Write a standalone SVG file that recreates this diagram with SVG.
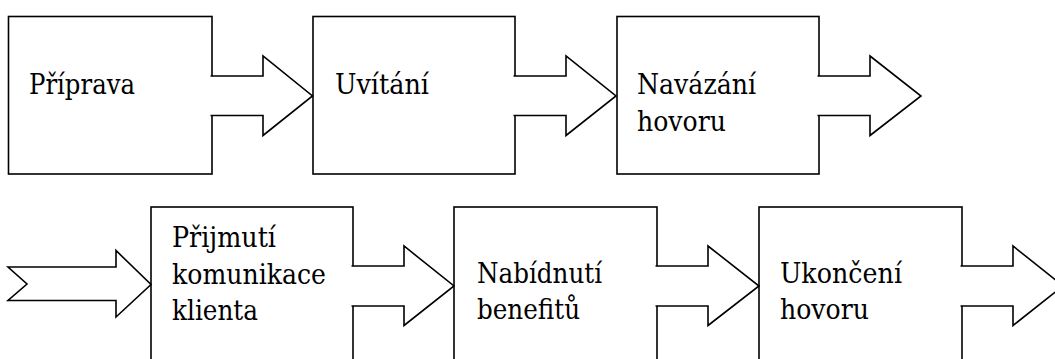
<svg xmlns="http://www.w3.org/2000/svg" width="1055" height="359" viewBox="0 0 1055 359">
<style>
.box{fill:#fff;stroke:#000;stroke-width:1.6}
.arr{fill:#fff;stroke:#000;stroke-width:1.6;stroke-linejoin:miter}
text{font-family:'DejaVu Serif',serif;font-size:28.5px;fill:#000}
</style>
<rect width="1055" height="359" fill="#fff"/>
<g id="n1"><rect class="box" x="8.5" y="16.5" width="203.5" height="157.5"/><text x="29" y="93.5" textLength="106" lengthAdjust="spacingAndGlyphs">Příprava</text></g>
<g id="n2"><rect class="box" x="313" y="16.5" width="202" height="157.5"/><text x="335" y="93.5" textLength="94" lengthAdjust="spacingAndGlyphs">Uvítání</text></g>
<g id="n3"><rect class="box" x="617" y="16.5" width="202" height="157.5"/><text x="637" y="93.5" textLength="119" lengthAdjust="spacingAndGlyphs">Navázání</text><text x="637" y="130.5" textLength="89" lengthAdjust="spacingAndGlyphs">hovoru</text></g>
<g id="n4"><rect class="box" x="151" y="207" width="202" height="180"/><text x="172" y="247" textLength="104" lengthAdjust="spacingAndGlyphs">Přijmutí</text><text x="172" y="283.5" textLength="154" lengthAdjust="spacingAndGlyphs">komunikace</text><text x="172" y="320" textLength="86" lengthAdjust="spacingAndGlyphs">klienta</text></g>
<g id="n5"><rect class="box" x="454" y="207" width="203" height="180"/><text x="477" y="282.5" textLength="125" lengthAdjust="spacingAndGlyphs">Nabídnutí</text><text x="477" y="319" textLength="103" lengthAdjust="spacingAndGlyphs">benefitů</text></g>
<g id="n6"><rect class="box" x="759" y="207" width="203" height="180"/><text x="780" y="282.5" textLength="122" lengthAdjust="spacingAndGlyphs">Ukončení</text><text x="780" y="319" textLength="89" lengthAdjust="spacingAndGlyphs">hovoru</text></g>
<g id="connectors">
<path class="arr" d="M210.5,76 H263 V56 L312.5,96 L263,135.5 V115.5 H210.5"/>
<path class="arr" d="M513.5,76 H566 V56 L616,96 L566,135.5 V115.5 H513.5"/>
<path class="arr" d="M817.5,76 H870 V56 L921,96 L870,135.5 V115.5 H817.5"/>
<polygon class="arr" points="8,267 116,267 116,250.5 151,284.5 116,317 116,300.5 8,300.5 27,284"/>
<path class="arr" d="M351.5,266 H404 V246 L454,286 L404,325.5 V306 H351.5"/>
<path class="arr" d="M655.5,266 H708 V246 L759,286 L708,325.5 V306 H655.5"/>
<path class="arr" d="M960.5,266 H1013 V246 L1063,286 L1013,325.5 V306 H960.5"/>
</g>
</svg>
